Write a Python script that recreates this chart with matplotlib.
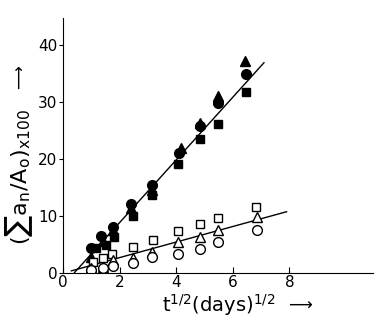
import numpy as np
import matplotlib.pyplot as plt

plt.rcParams['mathtext.default'] = 'regular'

# filled series (upper line)
fc_x = [0.99, 1.35, 1.76, 2.42, 3.14, 4.11, 4.83, 5.47, 6.46]
fc_y = [4.3, 6.5, 8.1, 12.0, 15.4, 21.0, 25.7, 29.9, 35.0]
ft_x = [0.99, 1.40, 1.78, 2.42, 3.14, 4.18, 4.83, 5.47, 6.44]
ft_y = [2.8, 5.5, 7.5, 11.3, 14.6, 21.9, 26.3, 31.0, 37.2]
fs_x = [1.16, 1.54, 1.82, 2.46, 3.14, 4.05, 4.83, 5.47, 6.46]
fs_y = [4.3, 4.8, 6.3, 9.9, 13.7, 19.1, 23.4, 26.2, 31.8]

# open series (lower line)
os_x = [1.08, 1.40, 1.75, 2.48, 3.17, 4.07, 4.83, 5.47, 6.82]
os_y = [1.9, 2.5, 3.2, 4.5, 5.8, 7.3, 8.6, 9.6, 11.6]
ot_x = [0.99, 1.42, 1.78, 2.48, 3.14, 4.07, 4.84, 5.49, 6.84]
ot_y = [0.8, 0.9, 2.2, 2.5, 3.7, 5.3, 6.2, 7.5, 9.8]
oc_x = [0.99, 1.42, 1.78, 2.49, 3.14, 4.07, 4.84, 5.49, 6.84]
oc_y = [0.5, 0.8, 1.1, 1.6, 2.7, 3.3, 4.2, 5.4, 7.5]

# fitted lines (end points)
upper_x = [0.41, 7.1]
upper_y = [0.0, 36.9]
lower_x = [0.3, 7.9]
lower_y = [0.3, 10.7]

fig = plt.figure(figsize=(3.81, 3.28), dpi=100)
ax = fig.add_axes([0.165, 0.169, 0.814, 0.775])

ax.plot(upper_x, upper_y, 'k-', lw=1.0)
ax.plot(lower_x, lower_y, 'k-', lw=1.0)

ms = 7
ax.plot(fs_x, fs_y, 'ks', ms=ms - 1, ls='none')
ax.plot(ft_x, ft_y, 'k^', ms=ms, ls='none')
ax.plot(fc_x, fc_y, 'ko', ms=ms, ls='none')
ax.plot(os_x, os_y, 's', mfc='white', mec='k', mew=1.0, ms=ms - 1, ls='none')
ax.plot(ot_x, ot_y, '^', mfc='white', mec='k', mew=1.0, ms=ms, ls='none')
ax.plot(oc_x, oc_y, 'o', mfc='white', mec='k', mew=1.0, ms=ms, ls='none')

ax.set_xlim(0, 10.95)
ax.set_ylim(0, 44.7)
ax.set_xticks([0, 2, 4, 6, 8])
ax.set_yticks([0, 10, 20, 30, 40])
ax.spines['top'].set_visible(False)
ax.spines['right'].set_visible(False)
ax.tick_params(axis='x', direction='in', length=4, labelsize=11, pad=2)
ax.tick_params(axis='y', direction='out', length=3, labelsize=11, pad=1)

fig.text(0.05, 0.46, r'$(\sum a_n/A_o)_{x100}$', rotation=90,
         ha='center', va='center', fontsize=16)
fig.text(0.05, 0.76, r'$\longrightarrow$', rotation=90,
         ha='center', va='center', fontsize=12)
fig.text(0.575, 0.07, r'$t^{1/2}(days)^{1/2}$',
         ha='center', va='center', fontsize=14)
fig.text(0.785, 0.075, r'$\longrightarrow$', ha='center', va='center', fontsize=12)

fig.savefig('out.png', dpi=100)
